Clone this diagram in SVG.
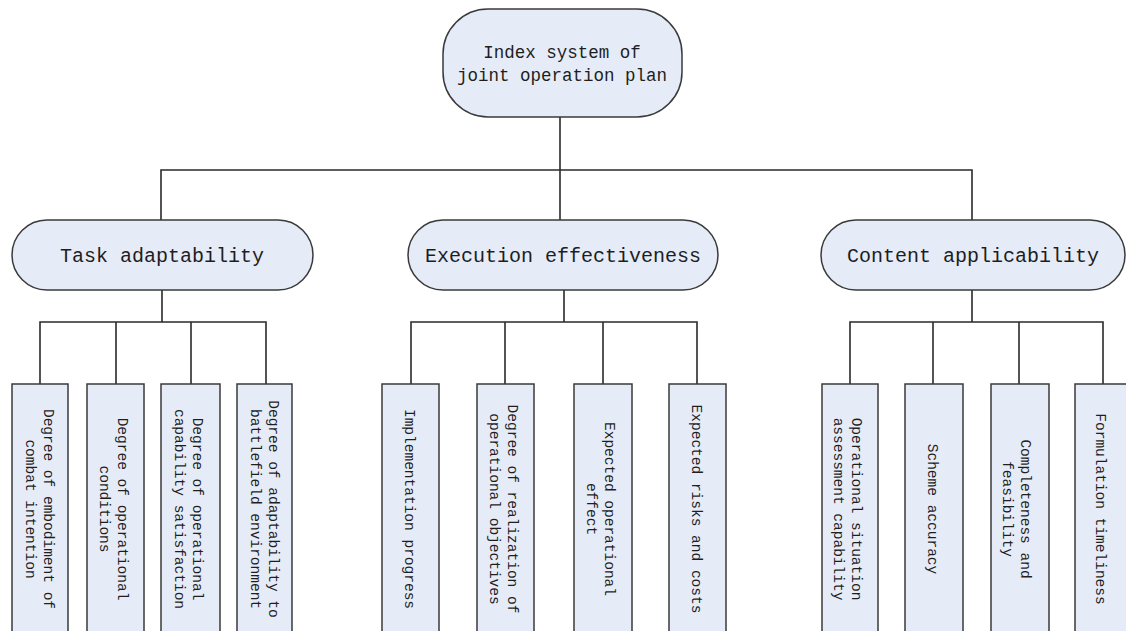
<svg xmlns="http://www.w3.org/2000/svg" width="1126" height="631" viewBox="0 0 1126 631">
<style>
.node{fill:#e6ecf7;stroke:#3a3a3a;stroke-width:1.5}
.t{font-family:"Liberation Mono","DejaVu Sans Mono",monospace;fill:#1e1e1e;text-anchor:middle}
.top{font-size:17.5px}
.mid{font-size:20px}
.leaf{font-size:14.5px}
.conn{fill:none;stroke:#2a2a2a;stroke-width:1.6}
</style>
<rect width="1126" height="631" fill="#ffffff"/>
<g id="connectors" class="conn">
<path d="M560,117 V220 M161,220 V170 H972 V220"/>
<path d="M162,290 V322 M40,384 V322 H266 V384 M116,322 V384 M191,322 V384"/>
<path d="M564,290 V322 M411,384 V322 H697 V384 M505,322 V384 M603,322 V384"/>
<path d="M972,290 V322 M850,384 V322 H1103 V384 M933,322 V384 M1019,322 V384"/>
</g>
<g id="root">
<rect class="node" x="443" y="9" width="239" height="108" rx="45" ry="45"/>
<text class="t top" x="562" y="58">Index system of</text>
<text class="t top" x="562" y="81">joint operation plan</text>
</g>
<g id="task">
<rect class="node" x="12" y="220" width="301" height="70" rx="35" ry="35"/>
<text class="t mid" x="162" y="262">Task adaptability</text>
</g>
<g id="execution">
<rect class="node" x="408" y="220" width="310" height="70" rx="35" ry="35"/>
<text class="t mid" x="563" y="262">Execution effectiveness</text>
</g>
<g id="content">
<rect class="node" x="821" y="220" width="304" height="70" rx="35" ry="35"/>
<text class="t mid" x="973" y="262">Content applicability</text>
</g>
<g id="leaf1">
<rect class="node" x="12" y="384" width="56" height="260"/>
<text class="t leaf" transform="translate(40,509) rotate(90)"><tspan x="0" y="-4">Degree of embodiment of</tspan><tspan x="0" y="14">combat intention</tspan></text>
</g>
<g id="leaf2">
<rect class="node" x="87" y="384" width="57" height="260"/>
<text class="t leaf" transform="translate(114,509) rotate(90)"><tspan x="0" y="-4">Degree of operational</tspan><tspan x="0" y="14">conditions</tspan></text>
</g>
<g id="leaf3">
<rect class="node" x="161" y="384" width="59" height="260"/>
<text class="t leaf" transform="translate(189,509) rotate(90)"><tspan x="0" y="-4">Degree of operational</tspan><tspan x="0" y="14">capability satisfaction</tspan></text>
</g>
<g id="leaf4">
<rect class="node" x="237" y="384" width="55" height="260"/>
<text class="t leaf" transform="translate(265,509) rotate(90)"><tspan x="0" y="-4">Degree of adaptability to</tspan><tspan x="0" y="14">battlefield environment</tspan></text>
</g>
<g id="leaf5">
<rect class="node" x="382" y="384" width="57" height="260"/>
<text class="t leaf" transform="translate(410,509) rotate(90)"><tspan x="0" y="5">Implementation progress</tspan></text>
</g>
<g id="leaf6">
<rect class="node" x="477" y="384" width="57" height="260"/>
<text class="t leaf" transform="translate(504,509) rotate(90)"><tspan x="0" y="-4">Degree of realization of</tspan><tspan x="0" y="14">operational objectives</tspan></text>
</g>
<g id="leaf7">
<rect class="node" x="574" y="384" width="58" height="260"/>
<text class="t leaf" transform="translate(601,509) rotate(90)"><tspan x="0" y="-4">Expected operational</tspan><tspan x="0" y="14">effect</tspan></text>
</g>
<g id="leaf8">
<rect class="node" x="669" y="384" width="57" height="260"/>
<text class="t leaf" transform="translate(697,509) rotate(90)"><tspan x="0" y="5">Expected risks and costs</tspan></text>
</g>
<g id="leaf9">
<rect class="node" x="822" y="384" width="56" height="260"/>
<text class="t leaf" transform="translate(848,509) rotate(90)"><tspan x="0" y="-4">Operational situation</tspan><tspan x="0" y="14">assessment capability</tspan></text>
</g>
<g id="leaf10">
<rect class="node" x="905" y="384" width="58" height="260"/>
<text class="t leaf" transform="translate(933,509) rotate(90)"><tspan x="0" y="5">Scheme accuracy</tspan></text>
</g>
<g id="leaf11">
<rect class="node" x="991" y="384" width="58" height="260"/>
<text class="t leaf" transform="translate(1017,509) rotate(90)"><tspan x="0" y="-4">Completeness and</tspan><tspan x="0" y="14">feasibility</tspan></text>
</g>
<g id="leaf12">
<rect class="node" x="1075" y="384" width="57" height="260"/>
<text class="t leaf" transform="translate(1101,509) rotate(90)"><tspan x="0" y="5">Formulation timeliness</tspan></text>
</g>
</svg>
